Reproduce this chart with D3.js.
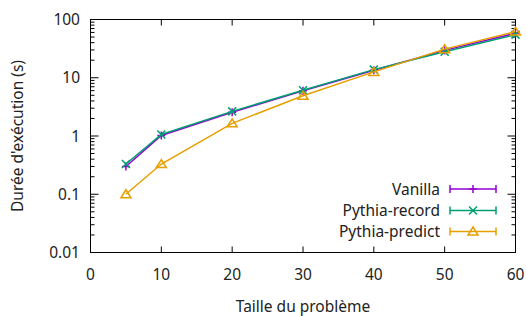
<!DOCTYPE html>
<html>
<head>
<meta charset="utf-8">
<script src="https://cdn.jsdelivr.net/npm/d3@7"></script>
<style>
  body { margin: 0; background: white; }
  text { font-family: "Noto Sans", "Open Sans", sans-serif; fill: #222; }
</style>
</head>
<body>
<script>
// problem sizes and runtimes (s)
const sizes = [5, 10, 20, 30, 40, 50, 60];
const vanilla = [0.30, 1.02, 2.55, 6.0, 13.5, 29.5, 58];
const pythiaRecord = [0.33, 1.06, 2.65, 6.1, 13.8, 28, 55];
const pythiaPredict = [0.10, 0.33, 1.65, 4.9, 12.6, 31, 62];
const seriesNames = ["Vanilla", "Pythia-record", "Pythia-predict"];
const colors = ["#9400d3", "#009e73", "#e69f00"];
const xTicks = [0, 10, 20, 30, 40, 50, 60];
const yTicks = [0.01, 0.1, 1, 10, 100];

const width = 526, height = 316;
const margin = {top: 19.5, right: 10.5, bottom: 63.5, left: 90.5};
const fs = 15.5;

const svg = d3.select("body").append("svg")
  .attr("width", width)
  .attr("height", height);

const x = d3.scaleLinear().domain([0, 60]).range([margin.left, width - margin.right]);
const y = d3.scaleLog().domain([0.01, 100]).range([height - margin.bottom, margin.top]);

// minor ticks for the log axis
const minor = [];
for (let e = -2; e < 2; e++) for (let k = 2; k < 10; k++) minor.push(k * Math.pow(10, e));

const frame = svg.append("g").attr("stroke", "#000").attr("stroke-width", 1);

// x ticks, bottom and top
xTicks.forEach(t => {
  frame.append("line").attr("x1", x(t)).attr("x2", x(t))
    .attr("y1", y(0.01)).attr("y2", y(0.01) - 6);
  frame.append("line").attr("x1", x(t)).attr("x2", x(t))
    .attr("y1", y(100)).attr("y2", y(100) + 6);
});
// y ticks, left and right
yTicks.forEach(t => {
  frame.append("line").attr("x1", x(0)).attr("x2", x(0) + 8).attr("y1", y(t)).attr("y2", y(t));
  frame.append("line").attr("x1", x(60)).attr("x2", x(60) - 8).attr("y1", y(t)).attr("y2", y(t));
});
minor.forEach(t => {
  frame.append("line").attr("x1", x(0)).attr("x2", x(0) + 4).attr("y1", y(t)).attr("y2", y(t));
  frame.append("line").attr("x1", x(60)).attr("x2", x(60) - 4).attr("y1", y(t)).attr("y2", y(t));
});

frame.append("rect")
  .attr("x", x(0)).attr("y", y(100))
  .attr("width", x(60) - x(0)).attr("height", y(0.01) - y(100))
  .attr("fill", "none");

// tick labels
svg.append("g").selectAll("text").data(xTicks).join("text")
  .attr("x", d => x(d)).attr("y", 280)
  .attr("text-anchor", "middle").attr("font-size", fs)
  .text(d => d);
svg.append("g").selectAll("text").data(yTicks).join("text")
  .attr("x", 80).attr("y", d => y(d) + 5.5)
  .attr("text-anchor", "end").attr("font-size", fs)
  .text(d => d);

// axis titles
svg.append("text").attr("x", x(30)).attr("y", 311.5)
  .attr("text-anchor", "middle").attr("font-size", fs)
  .text("Taille du problème");
svg.append("text")
  .attr("transform", `translate(23,${(y(0.01) + y(100)) / 2}) rotate(-90)`)
  .attr("text-anchor", "middle").attr("font-size", fs)
  .text("Durée d'exécution (s)");

// markers
function marker(g, i, cx, cy) {
  const c = colors[i];
  if (i === 0) {
    g.append("path").attr("d", `M${cx - 4},${cy}H${cx + 4}M${cx},${cy - 4}V${cy + 4}`)
      .attr("stroke", c).attr("stroke-width", 1.5).attr("fill", "none");
  } else if (i === 1) {
    g.append("path").attr("d", `M${cx - 4},${cy - 4}L${cx + 4},${cy + 4}M${cx - 4},${cy + 4}L${cx + 4},${cy - 4}`)
      .attr("stroke", c).attr("stroke-width", 1.5).attr("fill", "none");
  } else {
    g.append("path").attr("d", `M${cx},${cy - 4.5}L${cx + 5},${cy + 3.5}L${cx - 5},${cy + 3.5}Z`)
      .attr("stroke", c).attr("stroke-width", 1.5).attr("fill", "none");
  }
}

const data = [vanilla, pythiaRecord, pythiaPredict];
const line = d3.line().x(d => x(d[0])).y(d => y(d[1]));

data.forEach((vals, i) => {
  const pts = sizes.map((s, j) => [s, vals[j]]);
  const g = svg.append("g");
  g.append("path").datum(pts)
    .attr("d", line)
    .attr("fill", "none").attr("stroke", colors[i]).attr("stroke-width", 1.5);
  pts.forEach(p => marker(g, i, x(p[0]), y(p[1])));
});

// legend
const legY = [189, 210.5, 231.5];
seriesNames.forEach((name, i) => {
  const g = svg.append("g");
  g.append("text").attr("x", 440).attr("y", legY[i] + 5.5)
    .attr("text-anchor", "end").attr("font-size", fs).text(name);
  g.append("path")
    .attr("d", `M450,${legY[i]}H496M450,${legY[i] - 4}V${legY[i] + 4}M496,${legY[i] - 4}V${legY[i] + 4}`)
    .attr("stroke", colors[i]).attr("stroke-width", 1.5).attr("fill", "none");
  marker(g, i, 473, legY[i]);
});
</script>
</body>
</html>
